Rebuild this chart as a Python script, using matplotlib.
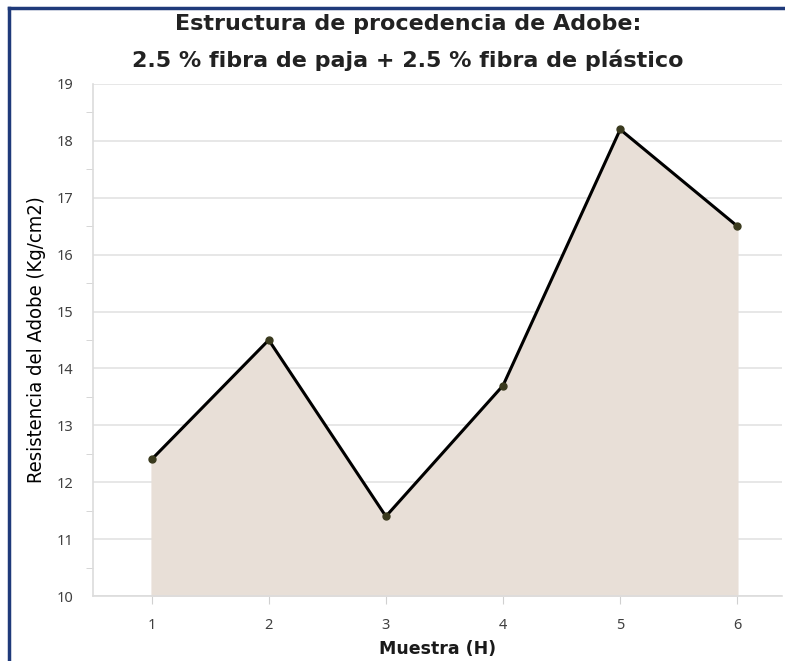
import numpy as np
import matplotlib.pyplot as plt
from matplotlib.lines import Line2D
from matplotlib.ticker import MultipleLocator

muestras = [1, 2, 3, 4, 5, 6]
resistencia = [12.4, 14.5, 11.4, 13.7, 18.2, 16.5]

fig = plt.figure(figsize=(7.85, 6.61), dpi=100)
ax = fig.add_axes([0.1185, 0.0983, 0.8775, 0.7747])

ax.fill_between(muestras, resistencia, 10, color="#e8dfd7", zorder=1)
ax.plot(muestras, resistencia, color="black", lw=2.2, zorder=3)
ax.plot(muestras, resistencia, "o", ms=5, color="#3a3a1e", zorder=4)

ax.set_xlim(0.5, 6.38)
ax.set_ylim(10, 19)
ax.set_xticks(muestras)
ax.yaxis.set_major_locator(MultipleLocator(1))
ax.yaxis.set_minor_locator(MultipleLocator(0.5))
ax.grid(axis="y", color="#e3e3e3", lw=1.2, zorder=0)
ax.set_axisbelow(True)

for s in ["top", "right"]:
    ax.spines[s].set_visible(False)
for s in ["left", "bottom"]:
    ax.spines[s].set_color("#dcdcdc")
    ax.spines[s].set_linewidth(1.2)
ax.tick_params(axis="both", which="both", color="#d0d0d0", labelcolor="#404040", labelsize=10.5)
ax.tick_params(axis="y", which="major", length=0, pad=14)
ax.tick_params(axis="y", which="minor", length=5)
ax.tick_params(axis="x", length=6, pad=10)
for lbl in ax.get_xticklabels() + ax.get_yticklabels():
    lbl.set_family("Noto Sans")

ax.set_xlabel("Muestra (H)", fontsize=12.5, fontweight="bold", family="DejaVu Sans",
              color="#1a1a1a", labelpad=5)
ax.set_ylabel("Resistencia del Adobe (Kg/cm2)", fontsize=14.5,
              family="DejaVu Sans", fontstretch="condensed", labelpad=8)

fig.text(0.52, 0.963, "Estructura de procedencia de Adobe:", ha="center", va="center",
         fontsize=16, fontweight="bold", family="DejaVu Sans", color="#222222")
fig.text(0.52, 0.909, "2.5 % fibra de paja + 2.5 % fibra de plástico", ha="center", va="center",
         fontsize=16, fontweight="bold", family="DejaVu Sans", color="#222222")

# blue frame, left and top edges
fig.add_artist(Line2D([0.011, 0.011], [0, 0.988], color="#1f3a7a", lw=2.5))
fig.add_artist(Line2D([0.011, 1.0], [0.988, 0.988], color="#1f3a7a", lw=2.5))

fig.savefig("out.png", dpi=100)
